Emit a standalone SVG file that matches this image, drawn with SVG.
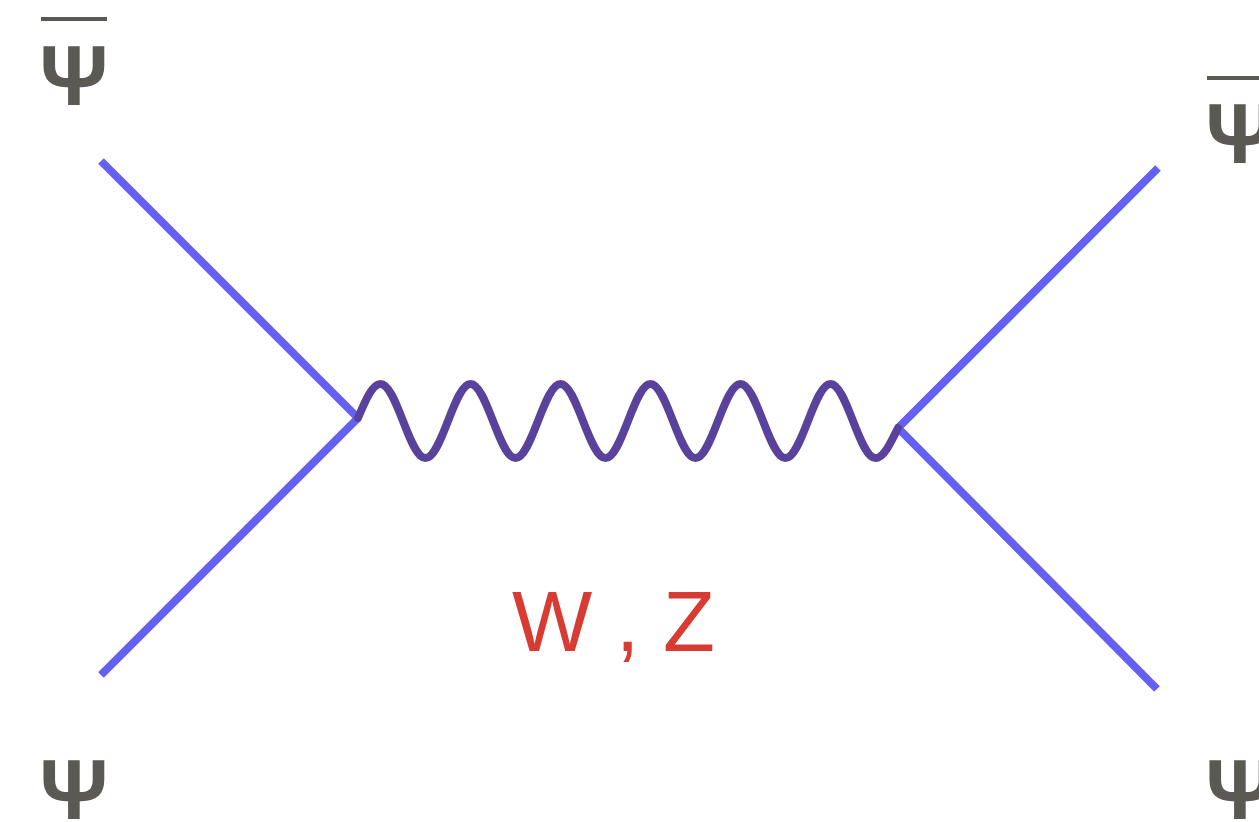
<svg xmlns="http://www.w3.org/2000/svg" width="1259" height="822" viewBox="0 0 1259 822">
<style>
.f{stroke:#6461f2;stroke-width:8;fill:none}
.w{stroke:#59429b;stroke-width:8;fill:none;stroke-linecap:round;stroke-linejoin:round}
.psi{font-family:"Liberation Sans",Arial,sans-serif;font-weight:bold;font-size:85px;fill:#5b5954;text-anchor:middle}
.bar{stroke:#5b5954;stroke-width:4}
.lab{font-family:"Liberation Sans",Arial,sans-serif;font-size:85px;fill:#d83b31}
</style>
<rect width="1259" height="822" fill="#fff"/>
<g id="connectors">
<line class="f" x1="101" y1="161" x2="358" y2="418"/>
<line class="f" x1="101" y1="675" x2="358" y2="418"/>
<line class="f" x1="1158" y1="168" x2="898" y2="428"/>
<line class="f" x1="898" y1="428" x2="1157" y2="689"/>
<path class="w" d="M358,418 c7.52,-17.85 14.43,-34 22.5,-34 s14.98,17.57 22.5,37 s14.43,37 22.5,37 s14.98,-17.57 22.5,-37 s14.43,-37 22.5,-37 s14.98,17.57 22.5,37 s14.43,37 22.5,37 s14.98,-17.57 22.5,-37 s14.43,-37 22.5,-37 s14.98,17.57 22.5,37 s14.43,37 22.5,37 s14.98,-17.57 22.5,-37 s14.43,-37 22.5,-37 s14.98,17.57 22.5,37 s14.43,37 22.5,37 s14.98,-17.57 22.5,-37 s14.43,-37 22.5,-37 s14.98,17.57 22.5,37 s14.43,37 22.5,37 s14.98,-17.57 22.5,-37 s14.43,-37 22.5,-37 s14.98,17.57 22.5,37 s14.43,37 22.5,37 s14.98,-14.57 22.5,-30"/>
</g>
<g id="psibar-tl"><line class="bar" x1="41" y1="19" x2="107" y2="19"/><text class="psi" x="74" y="105">Ψ</text></g>
<g id="psibar-tr"><line class="bar" x1="1207" y1="78" x2="1273" y2="78"/><text class="psi" x="1240" y="163">Ψ</text></g>
<g id="psi-bl"><text class="psi" x="74" y="819">Ψ</text></g>
<g id="psi-br"><text class="psi" x="1240" y="819">Ψ</text></g>
<g id="label"><text class="lab" x="512" y="651">W , Z</text></g>
</svg>
